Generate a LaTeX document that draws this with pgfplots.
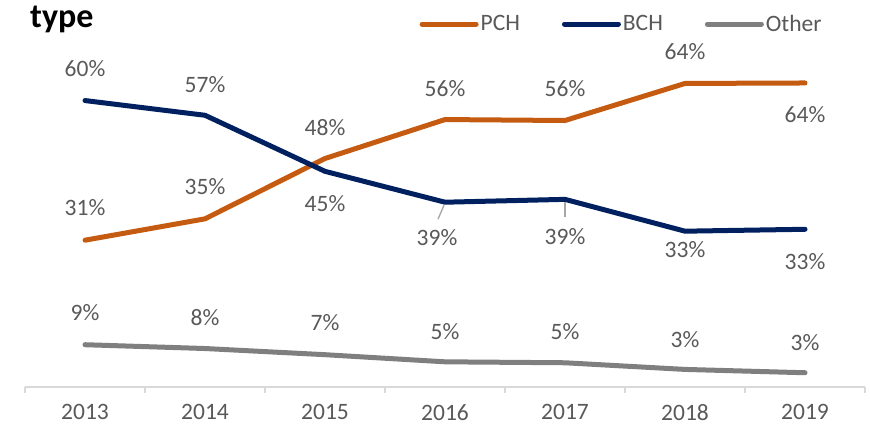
\documentclass[border=0pt]{standalone}
\usepackage{pgfplots}
\pgfplotsset{compat=1.18}
\usepackage{fontspec}
\setmainfont{Carlito}
\definecolor{pch}{HTML}{C55A11}
\definecolor{bch}{HTML}{002060}
\definecolor{oth}{HTML}{7F7F7F}
\definecolor{txt}{HTML}{595959}
\definecolor{axl}{HTML}{D9D9D9}
\definecolor{ldr}{HTML}{A6A6A6}
\begin{document}
\begin{tikzpicture}[lbl/.style={font=\fontsize{23.5}{28}\selectfont, text=txt, inner sep=0pt, anchor=center},
  ldr/.style={draw=ldr, line width=1.3pt}]
\useasboundingbox (-25pt,-40pt) rectangle (845pt,387pt);
\begin{axis}[
  scale only axis, width=840pt, height=347pt,
  xmin=-0.5, xmax=6.5, ymin=0, ymax=73.05,
  axis x line=bottom, axis y line=none,
  axis line style={axl, line width=1.5pt, -},
  xtick={0,1,2,3,4,5,6},
  xticklabels={2013,2014,2015,2016,2017,2018,2019},
  major tick length=0pt,
  minor xtick={-0.5,0.5,1.5,2.5,3.5,4.5,5.5,6.5},
  minor tick length=6pt, tick align=outside,
  minor tick style={axl, line width=1.5pt},
  xticklabel style={font=\fontsize{23.5}{28}\selectfont, text=txt, yshift=-14pt},
  clip=false,
  legend columns=3,
  legend style={draw=none, fill=none, at={(0.466,1.046)}, anchor=west,
    font=\fontsize{23.5}{28}\selectfont, text=txt,
    /tikz/every even column/.append style={column sep=40pt}},
  legend image code/.code={\draw[#1, line cap=round] (0pt,0pt) -- (54pt,0pt);},
]
\addplot[pch, line width=5pt, line join=round, line cap=round] coordinates
  {(0,30.9) (1,35.4) (2,48.1) (3,56.3) (4,56.1) (5,63.9) (6,64.0)};
\addlegendentry{PCH}
\addplot[bch, line width=5pt, line join=round, line cap=round] coordinates
  {(0,60.3) (1,57.2) (2,45.4) (3,38.9) (4,39.5) (5,32.8) (6,33.2)};
\addlegendentry{BCH}
\addplot[oth, line width=5pt, line join=round, line cap=round] coordinates
  {(0,8.9) (1,8.1) (2,6.8) (3,5.3) (4,5.1) (5,3.7) (6,3.0)};
\addlegendentry{Other}
% PCH labels
\node[lbl, yshift=33pt] at (axis cs:0,30.9) {31\%};
\node[lbl, yshift=32pt] at (axis cs:1,35.4) {35\%};
\node[lbl, yshift=31pt] at (axis cs:2,48.1) {48\%};
\node[lbl, yshift=31pt] at (axis cs:3,56.3) {56\%};
\node[lbl, yshift=32pt] at (axis cs:4,56.1) {56\%};
\node[lbl, yshift=32pt] at (axis cs:5,63.9) {64\%};
\node[lbl, yshift=-31.5pt] at (axis cs:6,64.0) {64\%};
% BCH labels
\node[lbl, yshift=31.5pt] at (axis cs:0,60.3) {60\%};
\node[lbl, yshift=31pt] at (axis cs:1,57.2) {57\%};
\node[lbl, yshift=-32pt] at (axis cs:2,45.4) {45\%};
\node[lbl, yshift=-35pt, xshift=-8pt] at (axis cs:3,38.9) {39\%};
\node[lbl, yshift=-37pt] at (axis cs:4,39.5) {39\%};
\node[lbl, yshift=-18pt] at (axis cs:5,32.8) {33\%};
\node[lbl, yshift=-32pt] at (axis cs:6,33.2) {33\%};
\draw[ldr] (axis cs:3,38.9) ++(-1pt,-3pt) -- ++(-6pt,-14pt);
\draw[ldr] (axis cs:4,39.5) ++(0pt,-3pt) -- ++(0pt,-15pt);
% Other labels
\node[lbl, yshift=32pt] at (axis cs:0,8.9) {9\%};
\node[lbl, yshift=31pt] at (axis cs:1,8.1) {8\%};
\node[lbl, yshift=32pt] at (axis cs:2,6.8) {7\%};
\node[lbl, yshift=30pt] at (axis cs:3,5.3) {5\%};
\node[lbl, yshift=31pt] at (axis cs:4,5.1) {5\%};
\node[lbl, yshift=29.5pt] at (axis cs:5,3.7) {3\%};
\node[lbl, yshift=30.5pt] at (axis cs:6,3.0) {3\%};
% title
\node[anchor=base west, font=\fontsize{34}{40}\selectfont\bfseries, inner sep=0pt]
  at (rel axis cs:0.006,1.0346) {type};
\end{axis}
\end{tikzpicture}
\end{document}
